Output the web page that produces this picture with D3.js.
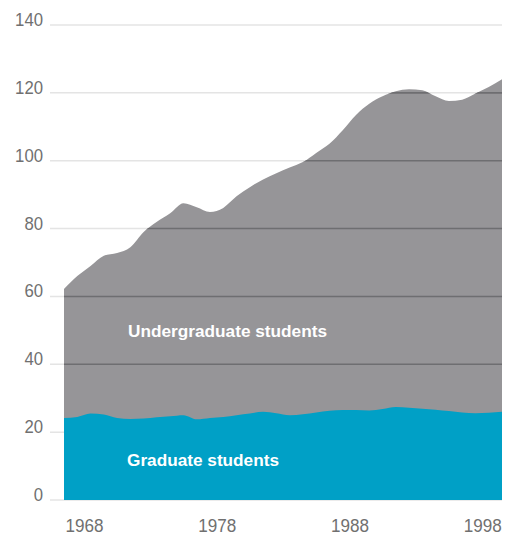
<!DOCTYPE html>
<html><head><meta charset="utf-8">
<script src="https://cdn.jsdelivr.net/npm/d3@7"></script>
<style>
html,body{margin:0;padding:0;background:#fff;}
svg{display:block;}
</style></head>
<body>
<svg id="chart" width="505" height="539"></svg>
<script>
const years = d3.range(1966, 2000);
const graduate = [24.2,24.5,25.5,25.2,24.2,23.9,24.0,24.4,24.7,25.0,23.8,24.2,24.5,25.0,25.5,26.0,25.6,25.0,25.3,25.8,26.3,26.5,26.5,26.4,26.8,27.4,27.2,26.9,26.6,26.2,25.8,25.6,25.7,26.0];
const total = [62.2,66.0,69.0,72.0,72.8,74.5,79.0,82.0,84.5,87.5,86.3,84.9,86.1,89.5,92.2,94.5,96.3,98.0,99.6,102.3,105.0,109.0,113.5,116.8,119.0,120.5,121.1,120.8,119.0,117.6,118.0,119.8,121.7,124.0];
const undergraduate = total.map((t,i) => +(t - graduate[i]).toFixed(1));
const yTicks = [0,20,40,60,80,100,120,140];
const xTickYears = [1968,1978,1988,1998];
const seriesNames = ["Graduate students","Undergraduate students"];

const rows = years.map((y,i) => ({year:y, grad:graduate[i], under:undergraduate[i]}));
const stack = d3.stack().keys(["grad","under"]);
const layers = stack(rows);

const svg = d3.select("#chart");
const x = d3.scaleLinear().domain([1966,1999]).range([64,502]);
const y = d3.scaleLinear().domain([0,140]).range([500,25]);

const area = d3.area().x(d => x(d.data.year)).y0(d => y(d[0])).y1(d => y(d[1])).curve(d3.curveMonotoneX);
const areaTop = d3.area().x(d => x(d.data.year)).y0(y(0)).y1(d => y(d[1])).curve(d3.curveMonotoneX);

const gridG = svg.append("g");
gridG.selectAll("line").data(yTicks).join("line")
  .attr("x1",50).attr("x2",502)
  .attr("y1",d=>y(d)).attr("y2",d=>y(d))
  .attr("stroke","#e4e4e4").attr("stroke-width",1.5);

svg.append("path").datum(layers[1]).attr("d", areaTop).attr("fill","#969598");

svg.append("clipPath").attr("id","clipArea").append("path").datum(layers[1]).attr("d", areaTop);
svg.append("g").attr("clip-path","url(#clipArea)")
  .selectAll("line").data(yTicks).join("line")
  .attr("x1",50).attr("x2",502)
  .attr("y1",d=>y(d)).attr("y2",d=>y(d))
  .attr("stroke","#6e6e71").attr("stroke-width",1.6);

svg.append("path").datum(layers[0]).attr("d", area).attr("fill","#00a0c6");

const numFont = "'Liberation Sans',Arial,sans-serif";
svg.append("g").selectAll("text").data(yTicks).join("text")
  .attr("x",43).attr("y",d=>y(d)+1)
  .attr("text-anchor","end")
  .attr("font-family",numFont)
  .attr("font-size",19).attr("fill","#707070")
  .attr("textLength",d=>String(d).length*9.3).attr("lengthAdjust","spacingAndGlyphs")
  .text(d=>d);

svg.append("g").selectAll("text").data(xTickYears).join("text")
  .attr("x",d=>x(d)-6).attr("y",532)
  .attr("text-anchor","middle")
  .attr("font-family",numFont)
  .attr("font-size",18).attr("fill","#707070")
  .attr("textLength",38).attr("lengthAdjust","spacingAndGlyphs")
  .text(d=>d);

svg.append("text").attr("x",128).attr("y",337)
  .attr("font-family","'Liberation Sans',Arial,sans-serif").attr("font-weight","bold")
  .attr("font-size",16.5).attr("fill","#fff")
  .attr("textLength",199).attr("lengthAdjust","spacingAndGlyphs")
  .text(seriesNames[1]);
svg.append("text").attr("x",127).attr("y",466)
  .attr("font-family","'Liberation Sans',Arial,sans-serif").attr("font-weight","bold")
  .attr("font-size",16.5).attr("fill","#fff")
  .attr("textLength",152).attr("lengthAdjust","spacingAndGlyphs")
  .text(seriesNames[0]);
</script>
</body></html>
